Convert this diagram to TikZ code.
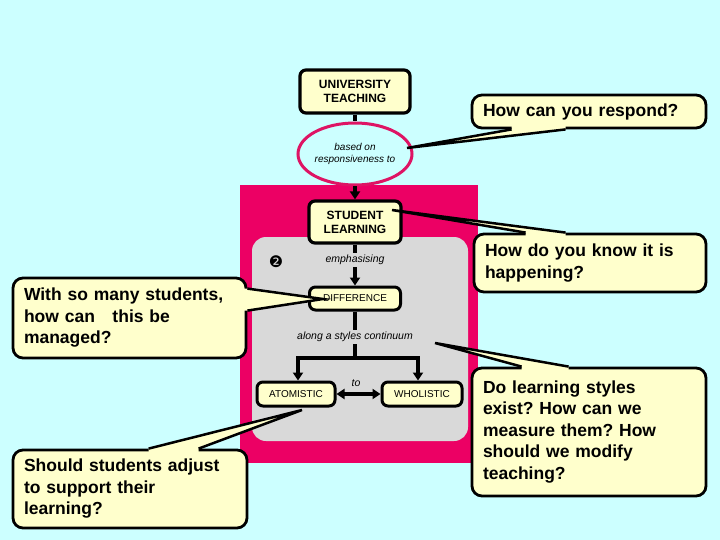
\documentclass[tikz,border=0pt]{standalone}
\usepackage{fontspec}
\setmainfont{Liberation Sans}
\newfontfamily\dingfont{DejaVu Sans}
\usetikzlibrary{arrows.meta,shapes.geometric,calc}
\frenchspacing
\definecolor{skycyan}{RGB}{204,255,255}
\definecolor{hotpink}{RGB}{236,0,100}
\definecolor{ringpink}{RGB}{222,20,100}
\definecolor{panelgray}{RGB}{217,217,217}
\definecolor{notepaper}{RGB}{255,255,204}
\tikzset{
  flowbox/.style={draw, line width=3.2pt, rounded corners=6pt, fill=notepaper, align=center, inner sep=2pt},
  capbox/.style={flowbox, font=\fontsize{12}{14}\selectfont\bfseries},
  tagbox/.style={flowbox, line width=3pt, font=\fontsize{10}{12}\selectfont},
  linktext/.style={inner sep=2pt, align=center, font=\fontsize{10.5}{12.5}\selectfont\itshape},
  link/.style={line width=4pt},
  flowarrow/.style={link, -{Triangle[width=10pt,length=8pt]}},
  callout/.style={draw, line width=2.8pt, rounded corners=10pt, fill=notepaper, align=left,
    inner xsep=11pt, inner ysep=4pt, font=\fontsize{17.5}{21.5}\selectfont\bfseries},
  tail/.style={line width=2.5pt, line join=miter},
}
\begin{document}
\begin{tikzpicture}[x=1pt,y=-1pt]
\fill[skycyan] (0,0) rectangle (720,540);
\useasboundingbox (0,0) rectangle (720,540);
% panels
\fill[hotpink] (240,185) rectangle (478,463);
\fill[panelgray, rounded corners=14pt] (252,237) rectangle (468,441);
% chain of boxes
\node[capbox, minimum width=110, minimum height=43] (ut) at (355,91.5) {UNIVERSITY\\TEACHING};
\node[ellipse, draw=ringpink, line width=3pt, fill=skycyan, minimum width=114, minimum height=62,
  linktext, inner sep=0pt, font=\fontsize{10}{12.5}\selectfont\itshape] (el) at (355,154) {based on\\responsiveness to};
\node[capbox, minimum width=92, minimum height=42] (sl) at (355,222) {STUDENT\\LEARNING};
\node[linktext] (emph) at (355,260) {emphasising};
\node[font=\dingfont\fontsize{16}{16}\selectfont, inner sep=0pt] (num) at (276,262) {❷};
\node[tagbox, minimum width=91, minimum height=23] (diff) at (355,298.5) {DIFFERENCE};
\node[linktext] (along) at (355,337) {along a styles continuum};
\coordinate (jn) at (355,358);
\node[tagbox, minimum width=78, minimum height=24] (atom) at (296,394) {ATOMISTIC};
\node[tagbox, minimum width=80, minimum height=24] (whol) at (422,394) {WHOLISTIC};
\node[linktext] (to) at (356,383) {to};
\draw[link] (ut.south) -- (el.north);
\draw[flowarrow] (el.south) -- (sl.north);
\draw[link] (sl.south) -- (emph.north);
\draw[flowarrow] (emph.south) -- (diff.north);
\draw[link] (diff.south) -- (along.north);
\draw[link] (along.south) -- (jn);
\draw[flowarrow] (jn) -| ([xshift=2pt]atom.north);
\draw[flowarrow] (jn) -| ([xshift=-4pt]whol.north);
\draw[link, {Triangle[width=10pt,length=8pt]}-{Triangle[width=10pt,length=8pt]}] (atom.east) -- (whol.west);
% callouts
\node[callout, text width=212, minimum height=33] (q1) at (589,111.5) {How can you respond?};
\node[callout, text width=210, minimum height=58] (q2) at (590,263) {How do you know it is\\happening?};
\node[callout, text width=211, minimum height=80] (q3) at (129.5,318) {With so many students,\\how can~~~this be\\managed?};
\node[callout, text width=212, minimum height=78] (q4) at (130,489) {Should students adjust\\to support their\\learning?};
\node[callout, text width=212, minimum height=128] (q5) at (589,432) {Do learning styles\\exist? How can we\\measure them? How\\should we modify\\teaching?};
% tails
\coordinate (t1) at (407,148);
\coordinate (q1a) at ($(q1.south west)+(41,0)$);
\coordinate (q1b) at ($(q1.south west)+(95,0)$);
\fill[notepaper] ($(q1a)+(0,-4)$) -- (q1a) -- (t1) -- (q1b) -- ($(q1b)+(0,-4)$) -- cycle;
\draw[tail] (q1a) -- (t1) -- (q1b);
\coordinate (t2) at (392,210);
\coordinate (q2a) at ($(q2.north west)+(53,0)$);
\coordinate (q2b) at ($(q2.north west)+(93,0)$);
\fill[notepaper] ($(q2a)+(0,4)$) -- (q2a) -- (t2) -- (q2b) -- ($(q2b)+(0,4)$) -- cycle;
\draw[tail] (q2a) -- (t2) -- (q2b);
\coordinate (t3) at (323,299);
\coordinate (q3a) at ($(q3.north east)+(0,12)$);
\coordinate (q3b) at ($(q3.north east)+(0,34)$);
\fill[notepaper] ($(q3a)+(-4,0)$) -- (q3a) -- (t3) -- (q3b) -- ($(q3b)+(-4,0)$) -- cycle;
\draw[tail] (q3a) -- (t3) -- (q3b);
\coordinate (t4) at (302,410);
\coordinate (q4a) at ($(q4.north west)+(137,0)$);
\coordinate (q4b) at ($(q4.north west)+(187,0)$);
\fill[notepaper] ($(q4a)+(0,4)$) -- (q4a) -- (t4) -- (q4b) -- ($(q4b)+(0,4)$) -- cycle;
\draw[tail] (q4a) -- (t4) -- (q4b);
\coordinate (t5) at (435,343);
\coordinate (q5a) at ($(q5.north west)+(51,0)$);
\coordinate (q5b) at ($(q5.north west)+(98,0)$);
\fill[notepaper] ($(q5a)+(0,4)$) -- (q5a) -- (t5) -- (q5b) -- ($(q5b)+(0,4)$) -- cycle;
\draw[tail] (q5a) -- (t5) -- (q5b);
\end{tikzpicture}
\end{document}
